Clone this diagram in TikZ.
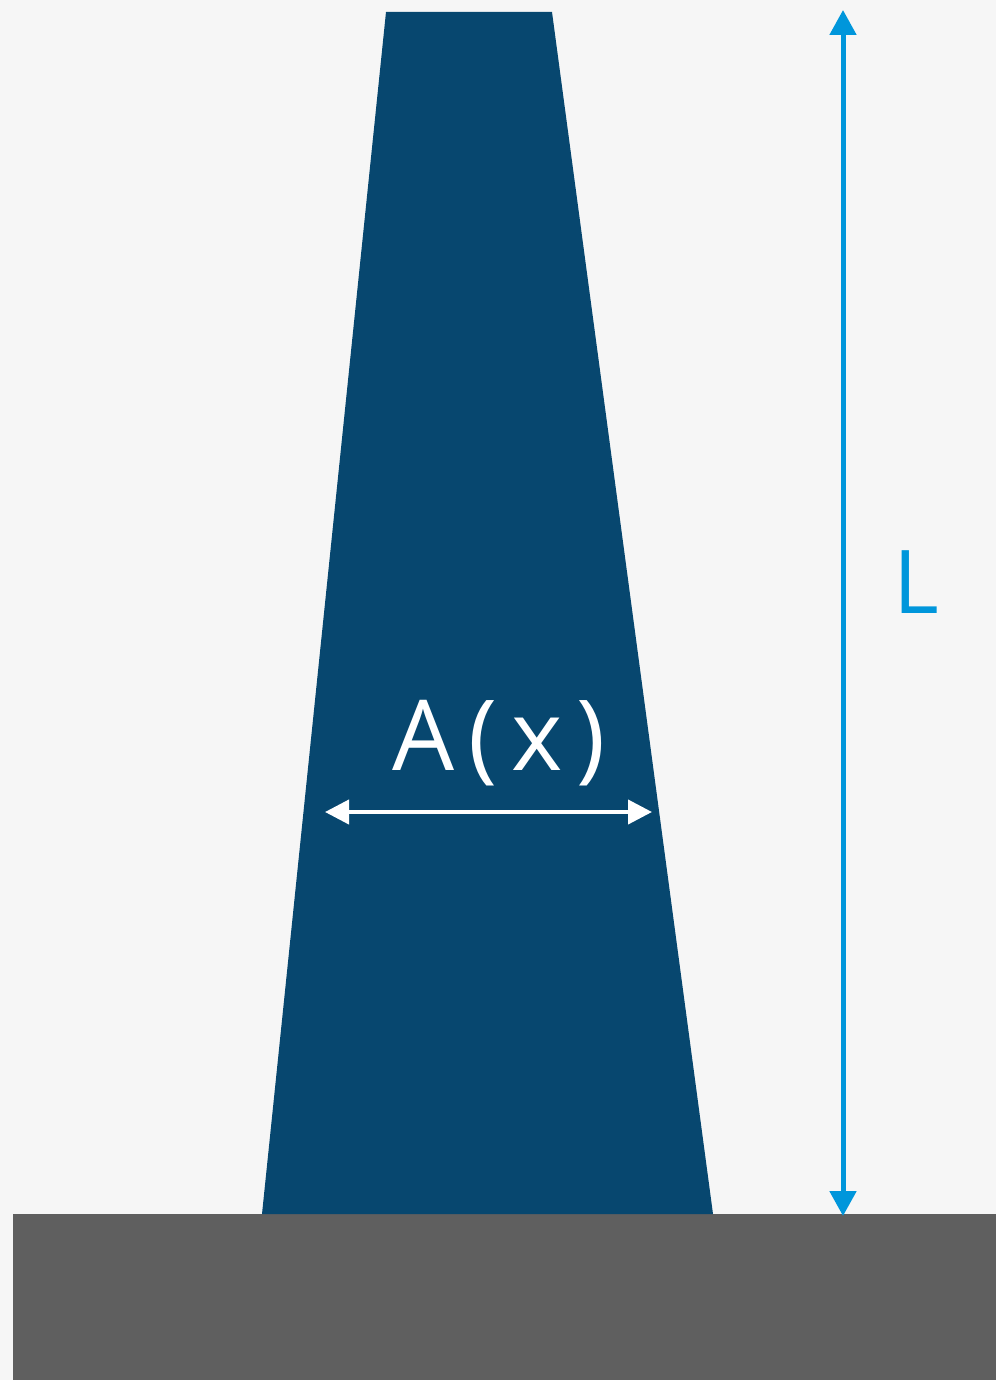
\documentclass[tikz,border=0pt]{standalone}
\usepackage{fontspec}
\setmainfont{Open Sans}
\usetikzlibrary{arrows.meta}
\definecolor{bgc}{HTML}{F6F6F6}
\definecolor{beamc}{HTML}{07476F}
\definecolor{groundc}{HTML}{5F5F5F}
\definecolor{dimc}{HTML}{0096DB}
\tikzset{
  dimarrow/.style={draw=dimc, line width=5pt, {Triangle[length=25pt,width=26pt]}-{Triangle[length=25pt,width=26pt]}},
  widtharrow/.style={draw=white, line width=4pt, {Triangle[length=24pt,width=24pt]}-{Triangle[length=24pt,width=24pt]}},
  lbl/.style={inner sep=0pt, anchor=base}
}
\begin{document}
\begin{tikzpicture}[x=1pt,y=-1pt]
\useasboundingbox (0,0) rectangle (996,1380);
\fill[bgc] (0,0) rectangle (996,1380);
% ground
\fill[groundc] (13,1214) rectangle (996,1380);
% tapered bar
\fill[beamc] (386,12) -- (552,12) -- (713,1214) -- (262,1214) -- cycle;
% length dimension
\coordinate (ltop) at (843,10);
\coordinate (lbot) at (843,1216);
\draw[dimarrow] (ltop) -- (lbot);
\node[lbl, anchor=base west, text=dimc, font=\fontsize{88}{88}\selectfont] (L) at (893,613) {L};
% width arrow
\coordinate (wl) at (325,812);
\coordinate (wr) at (652,812);
\draw[widtharrow] (wl) -- (wr);
\node[lbl, text=white, font=\fontsize{98}{98}\selectfont] (A) at (499,770) {A\hspace{14pt}(\hspace{14pt}x\hspace{14pt})};
\end{tikzpicture}
\end{document}
